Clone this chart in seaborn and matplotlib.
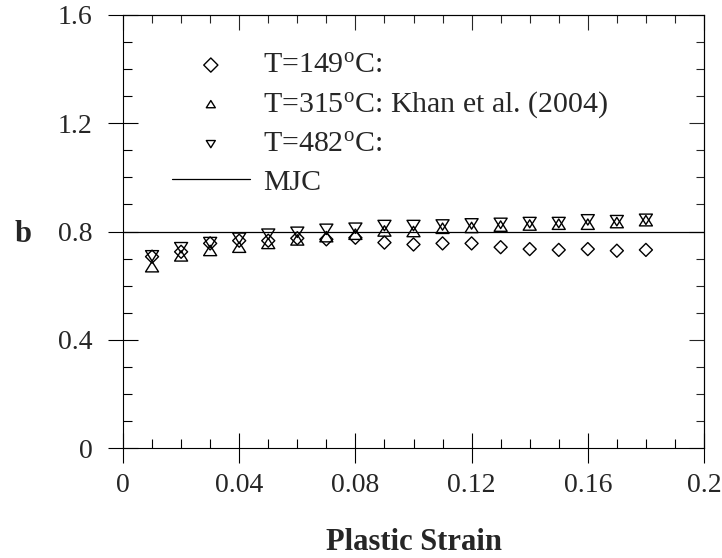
import numpy as np
import pandas as pd
import matplotlib
matplotlib.use("Agg")
import matplotlib.pyplot as plt
from matplotlib.path import Path
from matplotlib.markers import MarkerStyle
from matplotlib.ticker import MultipleLocator
import seaborn as sns

# ---------------- data ----------------
strain = [0.01, 0.02, 0.03, 0.04, 0.05, 0.06, 0.07, 0.08, 0.09,
          0.10, 0.11, 0.12, 0.13, 0.14, 0.15, 0.16, 0.17, 0.18]
b_149 = [0.707, 0.725, 0.756, 0.766, 0.766, 0.775, 0.771, 0.777, 0.759,
         0.752, 0.756, 0.756, 0.742, 0.735, 0.732, 0.735, 0.729, 0.732]
b_315 = [0.670, 0.710, 0.730, 0.742, 0.756, 0.769, 0.781, 0.790, 0.802,
         0.800, 0.812, 0.815, 0.820, 0.824, 0.827, 0.827, 0.833, 0.840]
b_482 = [0.710, 0.740, 0.759, 0.775, 0.790, 0.797, 0.808, 0.812, 0.822,
         0.822, 0.824, 0.828, 0.830, 0.833, 0.833, 0.843, 0.840, 0.845]
mjc_b = 0.8

labels = [r"T=149$^{\mathrm{o}}$C:",
          r"T=315$^{\mathrm{o}}$C: Khan et al. (2004)",
          r"T=482$^{\mathrm{o}}$C:",
          "MJC"]
xticks = [0, 0.04, 0.08, 0.12, 0.16, 0.2]
xticklabels = ["0", "0.04", "0.08", "0.12", "0.16", "0.2"]
yticks = [0, 0.4, 0.8, 1.2, 1.6]
yticklabels = ["0", "0.4", "0.8", "1.2", "1.6"]

# ---------------- style ----------------
sns.set_style("ticks")
plt.rcParams["font.family"] = ["Liberation Serif", "DejaVu Serif"]
plt.rcParams["mathtext.fontset"] = "custom"
plt.rcParams["mathtext.rm"] = "Liberation Serif"
plt.rcParams["mathtext.it"] = "Liberation Serif:italic"
plt.rcParams["mathtext.bf"] = "Liberation Serif:bold"

fig = plt.figure(figsize=(7.22, 5.58), dpi=100)
W, H = 722, 558
ax = fig.add_axes([123 / W, 1 - 448 / H, (704 - 123) / W, (448 - 15) / H])

tri_up = MarkerStyle(Path([(-1, -0.8), (1, -0.8), (0, 0.8), (-1, -0.8)],
                          [Path.MOVETO, Path.LINETO, Path.LINETO, Path.CLOSEPOLY]))
tri_dn = MarkerStyle(Path([(-1, 0.8), (1, 0.8), (0, -0.8), (-1, 0.8)],
                          [Path.MOVETO, Path.LINETO, Path.LINETO, Path.CLOSEPOLY]))

df = pd.DataFrame({"strain": strain, "b149": b_149, "b315": b_315, "b482": b_482})

common = dict(facecolor="none", edgecolor="black", linewidth=1.0, zorder=3)
sns.scatterplot(data=df, x="strain", y="b149", marker="D", s=44, ax=ax,
                label=labels[0], **common)
sns.scatterplot(data=df, x="strain", y="b315", marker=tri_up, s=88, ax=ax,
                label=labels[1], **common)
sns.scatterplot(data=df, x="strain", y="b482", marker=tri_dn, s=88, ax=ax,
                label=labels[2], **common)
ax.axhline(mjc_b, color="black", linewidth=0.9, label=labels[3], zorder=2)

ax.set_xlim(0, 0.2)
ax.set_ylim(0, 1.6)
ax.set_xticks(xticks, xticklabels)
ax.set_yticks(yticks, yticklabels)
ax.xaxis.set_minor_locator(MultipleLocator(0.01))
ax.yaxis.set_minor_locator(MultipleLocator(0.1))

for sp in ax.spines.values():
    sp.set_visible(True)
    sp.set_linewidth(0.8)
    sp.set_color("black")

ax.tick_params(which="major", direction="inout", length=21.6, width=0.8,
               labelsize=20, color="black", top=False, right=False)
ax.tick_params(axis="x", which="major", pad=7.0)
ax.tick_params(axis="y", which="major", pad=11.0)
ax.tick_params(which="minor", direction="in", length=6.2, width=0.8,
               color="black", top=False, right=False)

secx = ax.secondary_xaxis("top")
secx.set_xticks(xticks)
secx.xaxis.set_minor_locator(MultipleLocator(0.01))
secx.tick_params(which="major", direction="in", length=10.8, width=0.8, labeltop=False)
secx.tick_params(which="minor", direction="in", length=6.0, width=0.8)
secx.spines["top"].set_linewidth(0.8)

secy = ax.secondary_yaxis("right")
secy.set_yticks(yticks)
secy.yaxis.set_minor_locator(MultipleLocator(0.1))
secy.tick_params(which="major", direction="in", length=10.8, width=0.8, labelright=False)
secy.tick_params(which="minor", direction="in", length=6.0, width=0.8)
secy.spines["right"].set_linewidth(0.8)

ax.set_xlabel("Plastic Strain", fontsize=22, fontweight="bold")
ax.xaxis.label.set_va("baseline")
ax.xaxis.set_label_coords(0.5, (448 - 550) / 433)
ax.set_ylabel("b", fontsize=22, fontweight="bold", rotation=0)
ax.yaxis.label.set_va("baseline")
ax.yaxis.label.set_ha("center")
ax.yaxis.set_label_coords((23 - 123) / 581, (448 - 242) / 433)

handles, labs = ax.get_legend_handles_labels()
leg = ax.legend(handles, labs, loc="upper left", frameon=False, fontsize=21.5,
                bbox_to_anchor=(172 / W, 1 - 52 / H), bbox_transform=fig.transFigure,
                borderaxespad=0, borderpad=0, handlelength=2.6, handletextpad=0.45,
                labelspacing=0.36)
lh = leg.legend_handles
lh[0].set_sizes([52])
lh[1].set_sizes([42])
lh[2].set_sizes([42])

fig.savefig("out.png", dpi=100)
